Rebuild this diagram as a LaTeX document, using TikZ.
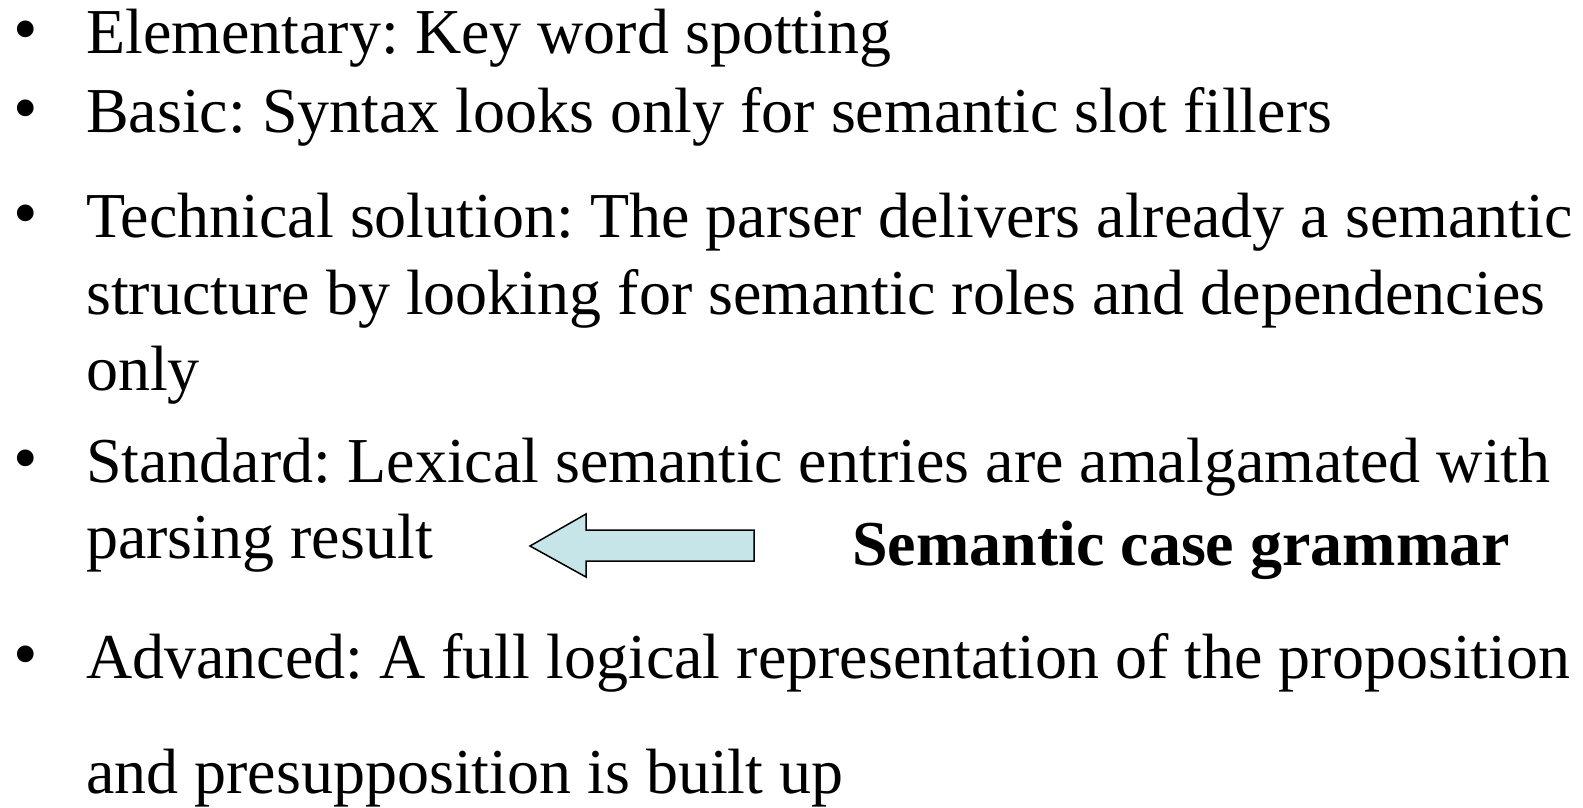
\documentclass[tikz,border=0pt]{standalone}
\usepackage{fontspec}
\setmainfont{Liberation Serif}
\frenchspacing
\definecolor{arrowfill}{RGB}{198,229,232}
\tikzset{
  line/.style={anchor=base west, inner sep=0pt, font=\fontsize{64}{76}\selectfont},
  bold/.style={line, font=\fontsize{64}{76}\selectfont\bfseries},
  bul/.style={anchor=base west, inner sep=0pt, font=\fontsize{70}{76}\selectfont},
}
\begin{document}
\begin{tikzpicture}[x=1pt,y=-1pt]
\useasboundingbox[fill=white] (0,0) rectangle (1583,807);
% bullets
\node[bul] (b1) at (13,52) {\textbullet};
\node[bul] (b2) at (13,131) {\textbullet};
\node[bul] (b3) at (13,236) {\textbullet};
\node[bul] (b4) at (13,481) {\textbullet};
\node[bul] (b5) at (13,677) {\textbullet};
% text lines
\node[line] (l1) at (86,53) {Elementary: Key word spotting};
\node[line] (l2) at (86,132) {Basic: Syntax looks only for semantic slot fillers};
\node[line] (l3) at (86,237) {Technical solution: The parser delivers already a semantic};
\node[line] (l4) at (86,314) {structure by looking for semantic roles and dependencies};
\node[line] (l5) at (86,390) {only};
\node[line] (l6) at (86,482) {Standard: Lexical semantic entries are amalgamated with};
\node[line] (l7) at (86,558) {parsing result};
\node[bold] (sem) at (852,565) {Semantic case grammar};
\node[line] (l8) at (86,678) {Advanced: A full logical representation of the proposition};
\node[line] (l9) at (86,793) {and presupposition is built up};
% block arrow
\draw[line width=1.5pt, fill=arrowfill, line join=miter]
  (754,530) -- (586,530) -- (586,514) -- (530,546) -- (586,577) -- (586,561) -- (754,561) -- cycle;
\end{tikzpicture}
\end{document}
